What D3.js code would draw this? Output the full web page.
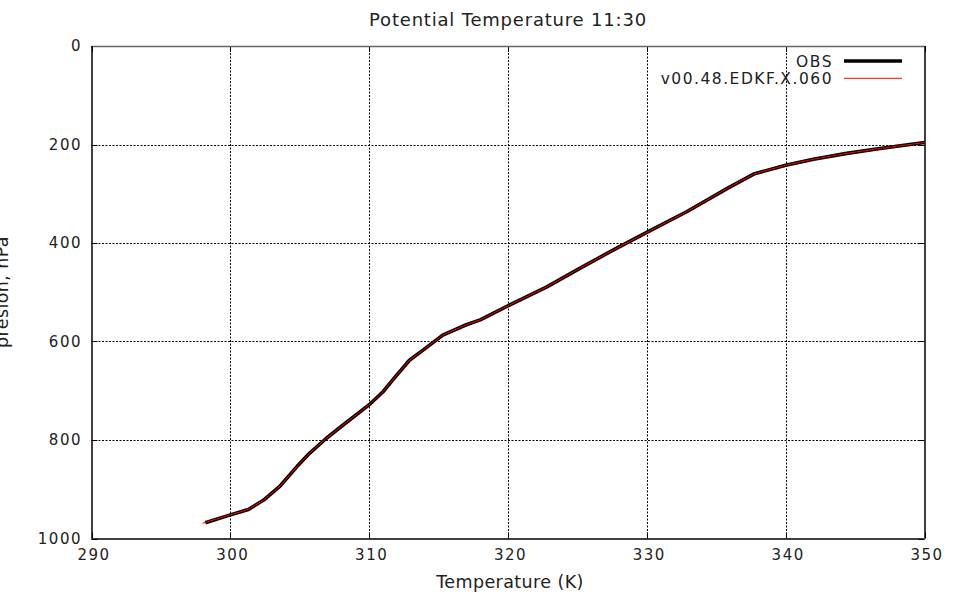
<!DOCTYPE html>
<html>
<head>
<meta charset="utf-8">
<script src="https://cdn.jsdelivr.net/npm/d3@7"></script>
<style>
  html, body { margin: 0; padding: 0; background: #fff; }
  svg { display: block; }
  text { font-family: "DejaVu Sans", sans-serif; fill: #222; }
</style>
</head>
<body>
<script>
// Sounding profile: potential temperature (K) against pressure (hPa)
const obsTheta = [298.2, 300.0, 301.3, 302.4, 303.6, 304.8, 305.7, 306.9, 308.1, 310.1, 311.0, 311.7, 312.9, 313.9, 315.3, 317.0, 318.0, 320.1, 322.8, 325.2, 327.6, 330.1, 332.9, 335.8, 337.7, 340.0, 342.0, 344.4, 346.8, 350.0, 351.5];
const obsPres  = [968, 952, 941, 922, 893, 854, 827, 797, 770, 726, 702, 678, 638, 617, 587, 566, 556, 526, 489, 451, 414, 377, 336, 289, 260, 242, 230, 218, 208, 196, 192];
const modelTheta = [298.0, 300.0, 301.3, 302.4, 303.6, 304.8, 305.7, 306.9, 308.1, 310.1, 311.0, 311.7, 312.9, 313.9, 315.3, 317.0, 318.0, 320.1, 322.8, 325.2, 327.6, 330.1, 332.9, 335.8, 337.7, 340.0, 342.0, 344.4, 346.8, 350.0, 351.5];
const modelPres  = [969, 952, 941, 922, 893, 854, 827, 797, 770, 726, 702, 678, 638, 617, 587, 566, 556, 526, 489, 451, 414, 377, 336, 289, 260, 242, 230, 218, 208, 196, 192];

const xTicks = [290, 300, 310, 320, 330, 340, 350];
const yTicks = [0, 200, 400, 600, 800, 1000];
const seriesNames = ["OBS", "v00.48.EDKF.X.060"];

const W = 957, H = 599;
const pL = 91.5, pR = 924.5, pT = 46, pB = 538.5;

const svg = d3.select("body").append("svg").attr("width", W).attr("height", H);

const x = d3.scaleLinear().domain([290, 350]).range([pL, pR]);
const y = d3.scaleLinear().domain([0, 1000]).range([pT, pB]);

// grid
const grid = svg.append("g");
grid.selectAll("line.gx").data(xTicks.slice(1, -1)).enter().append("line")
  .attr("x1", d => Math.round(x(d)) + 0.5).attr("x2", d => Math.round(x(d)) + 0.5)
  .attr("y1", pT).attr("y2", pB)
  .attr("stroke", "#000").attr("stroke-width", 1).attr("stroke-dasharray", "2,1.5");
grid.selectAll("line.gy").data(yTicks.slice(1, -1)).enter().append("line")
  .attr("y1", d => Math.round(y(d)) + 0.5).attr("y2", d => Math.round(y(d)) + 0.5)
  .attr("x1", pL).attr("x2", pR)
  .attr("stroke", "#000").attr("stroke-width", 1).attr("stroke-dasharray", "2,1.5");

// axes
const xAxis = d3.axisBottom(x).tickValues(xTicks).tickSize(0).tickPadding(11).tickFormat(d3.format("d"));
const yAxis = d3.axisLeft(y).tickValues(yTicks).tickSize(0).tickPadding(11).tickFormat(d3.format("d"));
const gx = svg.append("g").attr("transform", `translate(0,${pB})`).call(xAxis);
const gy = svg.append("g").attr("transform", `translate(${pL},0)`).call(yAxis);
[gx, gy].forEach(g => {
  g.select(".domain").remove();
  g.selectAll("text").style("font-family", "DejaVu Sans, sans-serif").style("font-size", "15px")
    .style("letter-spacing", "1.5px").attr("fill", "#222");
});
gx.selectAll("text").attr("dy", "0.71em").attr("dx", "2");
gy.selectAll("text").attr("dx", "1.5");

// tick marks on all four sides
const tk = svg.append("g").attr("stroke", "#000").attr("stroke-width", 1);
xTicks.forEach(d => {
  const px = Math.round(x(d)) + 0.5;
  tk.append("line").attr("x1", px).attr("x2", px).attr("y1", pB).attr("y2", pB - 6);
  tk.append("line").attr("x1", px).attr("x2", px).attr("y1", pT).attr("y2", pT + 6);
});
yTicks.forEach(d => {
  const py = Math.round(y(d)) + 0.5;
  tk.append("line").attr("y1", py).attr("y2", py).attr("x1", pL).attr("x2", pL + 6);
  tk.append("line").attr("y1", py).attr("y2", py).attr("x1", pR).attr("x2", pR - 6);
});

// data lines
svg.append("clipPath").attr("id", "plotclip").append("rect")
  .attr("x", pL).attr("y", pT).attr("width", pR - pL).attr("height", pB - pT);
const line = d3.line().x(d => x(d[0])).y(d => y(d[1]));
const obs = obsTheta.map((t, i) => [t, obsPres[i]]);
const mod = modelTheta.map((t, i) => [t, modelPres[i]]);
const plot = svg.append("g").attr("clip-path", "url(#plotclip)");
plot.append("path").datum(obs).attr("d", line).attr("fill", "none")
  .attr("stroke", "#000").attr("stroke-width", 3.6).attr("stroke-linejoin", "round");
plot.append("path").datum(mod).attr("d", line).attr("fill", "none")
  .attr("stroke", "#ff0000").attr("stroke-width", 1);

// border
svg.append("line").attr("x1", pL).attr("x2", pR).attr("y1", pT + 0.5).attr("y2", pT + 0.5).attr("stroke", "#666").attr("stroke-width", 1.5);
svg.append("line").attr("x1", pL).attr("x2", pR).attr("y1", pB + 0.5).attr("y2", pB + 0.5).attr("stroke", "#000").attr("stroke-width", 1.5);
svg.append("line").attr("x1", pL + 0.5).attr("x2", pL + 0.5).attr("y1", pT).attr("y2", pB).attr("stroke", "#000").attr("stroke-width", 1.5);
svg.append("line").attr("x1", pR + 0.5).attr("x2", pR + 0.5).attr("y1", pT).attr("y2", pB).attr("stroke", "#000").attr("stroke-width", 1.5);

// legend
const legend = svg.append("g");
const legStyles = [{ c: "#000", w: 3.6 }, { c: "#ff0000", w: 1 }];
seriesNames.forEach((name, i) => {
  const ly = 61 + i * 17.3;
  legend.append("text").attr("x", 833).attr("y", ly).attr("dy", "0.36em")
    .attr("text-anchor", "end").style("font-size", "15.5px").style("letter-spacing", "1.5px").text(name);
  legend.append("line").attr("x1", 844).attr("x2", 902).attr("y1", ly).attr("y2", ly)
    .attr("stroke", legStyles[i].c).attr("stroke-width", legStyles[i].w);
});

// titles
svg.append("text").attr("x", 508).attr("y", 26).attr("text-anchor", "middle")
  .style("font-size", "18px").style("letter-spacing", "0.8px").text("Potential Temperature 11:30");
svg.append("text").attr("x", 510).attr("y", 588).attr("text-anchor", "middle")
  .style("font-size", "17.5px").style("letter-spacing", "0.4px").text("Temperature (K)");
svg.append("text").attr("transform", "translate(8.3,292) rotate(-90)").attr("text-anchor", "middle")
  .style("font-size", "17.5px").style("letter-spacing", "0.4px").text("presion, hPa");
</script>
</body>
</html>
